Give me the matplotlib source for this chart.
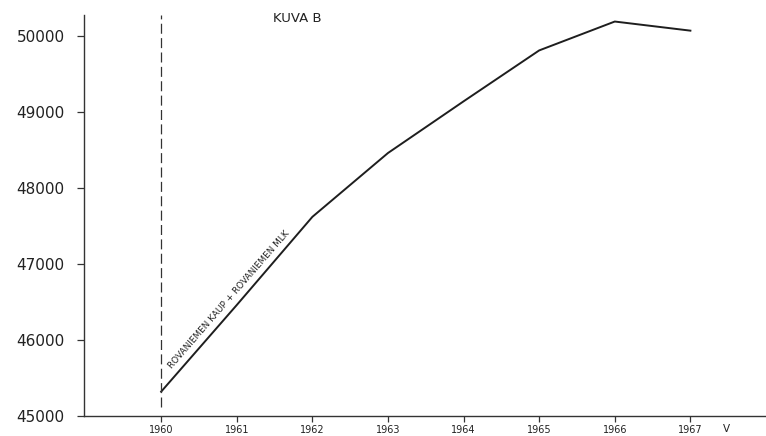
import matplotlib
matplotlib.use("Agg")
import matplotlib.pyplot as plt

# väkiluku, Rovaniemen kaup. + Rovaniemen mlk
years = [1960, 1961, 1962, 1963, 1964, 1965, 1966, 1967]
population = [45320, 46460, 47620, 48460, 49140, 49810, 50190, 50070]

y_ticks = [45000, 46000, 47000, 48000, 49000, 50000]
x_ticks = years
title = "KUVA B"
series_label = "ROVANIEMEN KAUP + ROVANIEMEN MLK"
x_unit = "V"

fig = plt.figure(figsize=(7.66, 4.36), dpi=100)
ax = fig.add_axes([0.1097, 0.0459, 0.8903, 0.9197])

ax.plot(years, population, color="#1e1e1e", linewidth=1.4)
ax.plot([years[0], years[0]], [45120, 50276], color="#333333",
        linewidth=0.9, linestyle=(0, (8, 3.5)))

ax.set_xlim(1958.98, 1968.0)
ax.set_ylim(45000, 50276)

ax.spines["top"].set_visible(False)
ax.spines["right"].set_visible(False)
ax.spines["left"].set_color("#333333")
ax.spines["bottom"].set_color("#333333")
ax.spines["left"].set_linewidth(1.0)
ax.spines["bottom"].set_linewidth(1.0)

ax.set_yticks(y_ticks)
ax.set_yticklabels([str(v) for v in y_ticks])
ax.set_xticks(x_ticks)
ax.set_xticklabels([str(v) for v in x_ticks])
ax.tick_params(axis="y", labelsize=11, length=5, width=0.9, pad=9,
               colors="#333333", labelcolor="#222222")
ax.tick_params(axis="x", labelsize=7, length=4, width=0.9, pad=2.5,
               colors="#333333", labelcolor="#222222")

ax.text(1967.48, 44890, x_unit, fontsize=7.5, color="#222222",
        ha="center", va="top")
ax.text(1961.8, 50235, title, fontsize=9.5, color="#222222",
        ha="center", va="center")

# teksti käyrän viereen
ax.text(1960.17, 45600, series_label, fontsize=6.4, color="#222222",
        rotation=49, rotation_mode="anchor", ha="left", va="bottom")

fig.savefig("out.png", dpi=100)
